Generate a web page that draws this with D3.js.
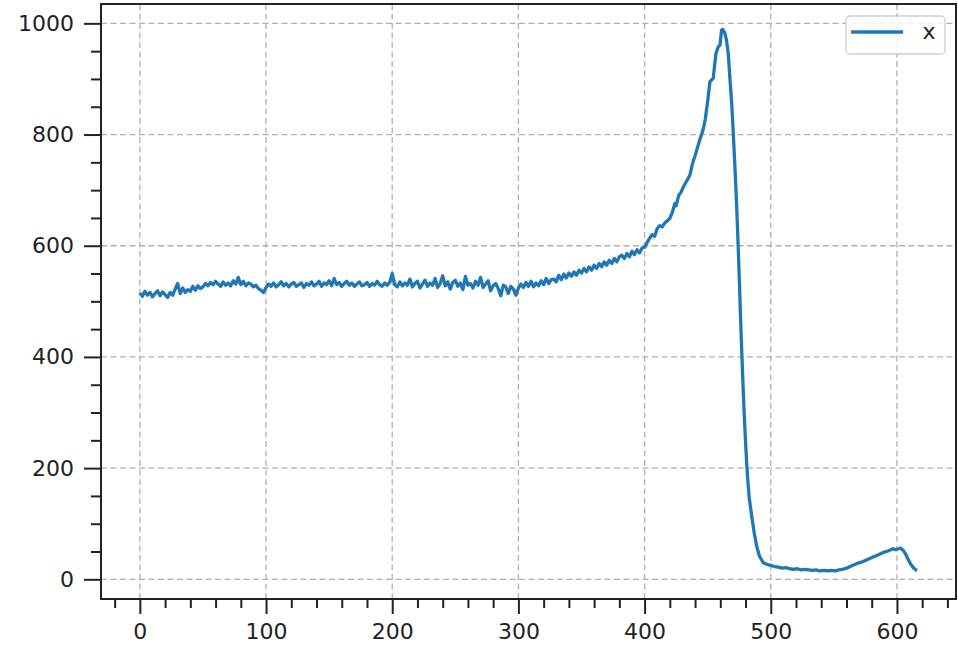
<!DOCTYPE html>
<html><head><meta charset="utf-8">
<script src="https://cdn.jsdelivr.net/npm/d3@7"></script>
<style>body{margin:0;background:#fff}svg{display:block}</style>
</head><body>
<svg id="c" width="958" height="645"></svg>
<script>
const seriesName = "x";
const xs = [0,2,4,6,8,10,12,14,16,18,20,22,24,26,28,
30,32,34,36,38,40,42,44,46,48,
50,52,54,56,58,60,62,64,66,68,70,72,74,76,78,
80,82,84,86,88,90,92,94,96,98,
100,102,104,106,108,110,112,114,116,118,120,122,124,126,128,130,132,134,136,138,140,142,144,146,148,
150,152,154,156,158,160,162,164,166,168,170,172,174,176,178,180,182,184,186,188,190,192,194,196,198,
200,202,204,206,208,210,212,214,216,218,220,222,224,226,228,230,232,234,236,238,240,242,244,246,248,
250,252,254,256,258,260,262,264,266,268,270,272,274,276,278,280,282,284,286,288,290,292,294,296,298,
300,302,304,306,308,310,312,314,316,318,320,322,324,326,328,330,332,334,336,338,340,342,344,346,348,
350,352,354,356,358,360,362,364,366,368,370,372,374,376,378,380,382,384,386,388,390,392,394,396,398,
400,403,406,408,410,412,414,416,418,420,422,424,425,427,429,431,433,435,436,438,440,441.3,443,445,446.5,448,450,451.8,453,454.4,455.5,456.6,458.4,459.8,461,462,463.7,465,466.3,467.5,
469,470,471,472,473,474,475,476,477,478,479,480,481,482,483,485,487,489,491,494,498,
500,503,506,509,512,515,518,521,524,527,530,533,536,539,542,545,548,551,554,557,560,563,566,569,572,575,578,581,584,587,590,593,595,597,599,601,603,605,607,609,611,613,615,616];
const ys = [515,509,518,511,516,508,514,519,510,517,512,507,516,511,522,
532,514,524,516,521,518,527,520,528,523,
526,532,528,534,530,536,531,527,535,529,533,528,537,531,543,
530,536,528,533,531,526,529,523,520,516,
525,531,527,533,526,530,535,528,532,526,531,534,527,530,533,525,532,529,535,528,531,536,527,533,530,
537,528,541,530,534,527,532,536,529,533,527,531,535,528,530,534,527,532,529,536,530,527,533,529,534,
550,530,526,535,528,533,529,540,526,532,536,524,531,538,527,533,529,541,525,532,546,528,535,522,534,
538,527,533,521,545,529,532,524,536,529,543,525,531,537,519,528,532,523,510,529,526,514,527,522,511,
524,531,525,534,527,536,526,533,528,537,530,541,532,539,540,535,547,539,549,542,551,545,553,547,556,
551,559,553,562,556,565,559,568,562,571,565,574,568,577,571,580,583,577,586,580,590,584,593,587,596,
597,610,620,617,631,636,634,641,645,649,660,676,672,690,697,707,715,723,728,748,762,772,785,799,810,826,860,895,898,901,925,946,958,961,988,989,982,968,946,905,
858,815,770,722,670,610,545,475,410,350,295,248,205,172,145,112,82,58,42,30,26,
25,23,22,20,21,19,18,19,17,18,17,16,17,15,16,15,16,15,17,18,20,23,26,29,31,34,37,40,43,46,49,51,53,55,53,55,56,52,45,35,27,21,17,16];
const xMajorTicks = [0,100,200,300,400,500,600];
const yMajorTicks = [0,200,400,600,800,1000];
const xMinorTicks = [-20,20,40,60,80,120,140,160,180,220,240,260,280,320,340,360,380,420,440,460,480,520,540,560,580,620,640];
const yMinorTicks = [50,100,150,250,300,350,450,500,550,650,700,750,850,900,950];

const svg = d3.select("#c");
const L = 101, R = 956, T = 4, B = 599;
const x = d3.scaleLinear().domain([-30.8, 646.8]).range([L, R]);
const y = d3.scaleLinear().domain([-35.4, 1034.8]).range([B, T]);
const font = "DejaVu Sans, sans-serif";
const ink = "#222";

// grid
const grid = svg.append("g").attr("stroke", "#b0b0b0").attr("stroke-width", 1.3).attr("stroke-dasharray", "6,3.5");
grid.selectAll(".gx").data(xMajorTicks).join("line")
  .attr("x1", d => x(d)).attr("x2", d => x(d)).attr("y1", T).attr("y2", B);
grid.selectAll(".gy").data(yMajorTicks).join("line")
  .attr("y1", d => y(d)).attr("y2", d => y(d)).attr("x1", L).attr("x2", R);

// line
const line = d3.line().x((d, i) => x(xs[i])).y((d, i) => y(ys[i]));
svg.append("path").datum(ys).attr("d", line).attr("fill", "none")
  .attr("stroke", "#1f77b4").attr("stroke-width", 3.3).attr("stroke-linejoin", "round").attr("stroke-linecap", "butt");

// axes
const xAxis = d3.axisBottom(x).tickValues(xMajorTicks).tickSize(15).tickPadding(9).tickFormat(d3.format("d"));
const xAxisMinor = d3.axisBottom(x).tickValues(xMinorTicks).tickSize(9).tickFormat("");
const yAxis = d3.axisLeft(y).tickValues(yMajorTicks).tickSize(17).tickPadding(10).tickFormat(d3.format("d"));
const yAxisMinor = d3.axisLeft(y).tickValues(yMinorTicks).tickSize(10).tickFormat("");

function style(g) {
  g.select(".domain").remove();
  g.selectAll("line").attr("stroke", ink).attr("stroke-width", 2);
  g.selectAll("text").attr("fill", ink).attr("font-family", font).attr("font-size", 22);
}
svg.append("g").attr("transform", `translate(0,${B})`).call(xAxisMinor).call(style);
svg.append("g").attr("transform", `translate(0,${B})`).call(xAxis).call(style);
svg.append("g").attr("transform", `translate(${L},0)`).call(yAxisMinor).call(style);
svg.append("g").attr("transform", `translate(${L},0)`).call(yAxis).call(style);

// frame
svg.append("rect").attr("x", L).attr("y", T).attr("width", R - L).attr("height", B - T)
  .attr("fill", "none").attr("stroke", ink).attr("stroke-width", 2);

// legend
const lg = svg.append("g");
lg.append("rect").attr("x", 846).attr("y", 16).attr("width", 99).attr("height", 38).attr("rx", 4)
  .attr("fill", "#fff").attr("fill-opacity", 0.8).attr("stroke", "#d0d0d0").attr("stroke-width", 1.3);
lg.append("line").attr("x1", 851).attr("x2", 903).attr("y1", 32).attr("y2", 32)
  .attr("stroke", "#1f77b4").attr("stroke-width", 3.3);
lg.append("text").attr("x", 929).attr("y", 39).attr("text-anchor", "middle")
  .attr("font-family", font).attr("font-size", 22).attr("fill", ink).text(seriesName);
</script>
</body></html>
